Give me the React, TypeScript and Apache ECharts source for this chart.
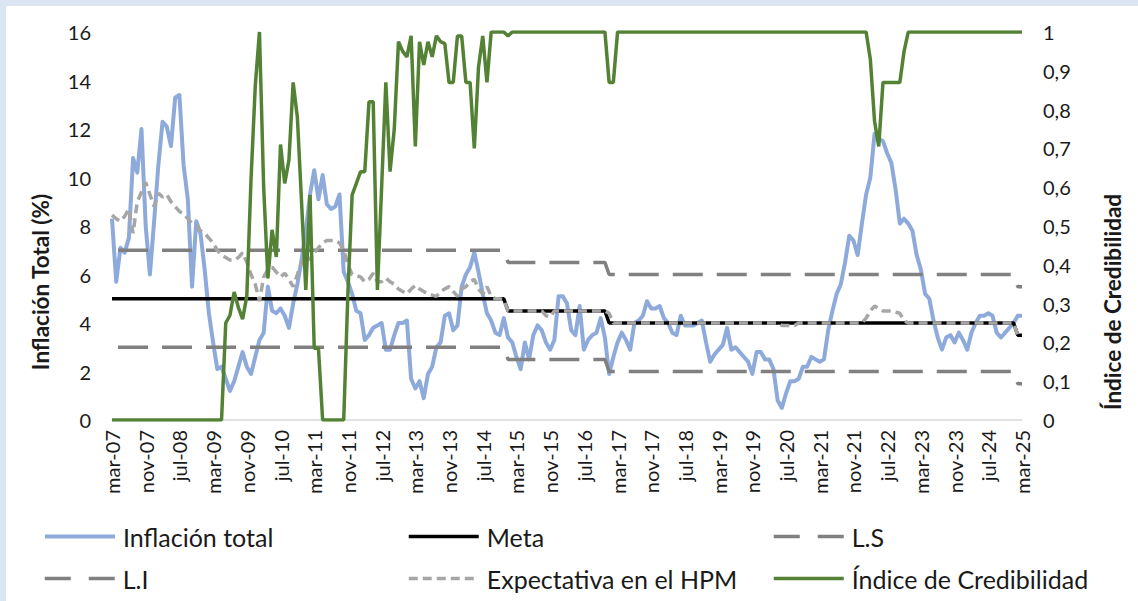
import React, { useEffect, useRef } from "react";
import * as echarts from "echarts";

// ---------- DATA ----------
const MONTHS = ["ene", "feb", "mar", "abr", "may", "jun", "jul", "ago", "sep", "oct", "nov", "dic"];
const START_YEAR = 2007;
const START_MONTH = 2; // mar
const N_MONTHS = 217; // mar-07 .. mar-25

const CATEGORIES: string[] = [];
for (let k = 0; k < N_MONTHS; k++) {
  const m = (START_MONTH + k) % 12;
  const y = START_YEAR + Math.floor((START_MONTH + k) / 12);
  CATEGORIES.push(`${MONTHS[m]}-${String(y % 100).padStart(2, "0")}`);
}

const INFLACION = [
  8.3, 5.7, 7.1, 6.9, 7.5, 10.8, 10.2, 12.0, 8.0, 6.0,
  8.2, 10.5, 12.3, 12.1, 11.3, 13.3, 13.4, 10.5, 9.1, 5.5,
  8.2, 7.7, 6.2, 4.4, 3.2, 2.1, 2.2, 1.7, 1.2, 1.6,
  2.2, 2.8, 2.2, 1.9, 2.6, 3.3, 3.6, 5.5, 4.5, 4.4,
  4.6, 4.3, 3.8, 4.8, 5.6, 6.6, 7.8, 9.3, 10.3, 9.1,
  10.1, 8.9, 8.7, 8.8, 9.3, 6.1, 5.7, 5.2, 4.5, 4.4,
  3.3, 3.5, 3.8, 3.9, 4.0, 2.9, 2.9, 3.5, 4.0, 4.0,
  4.1, 1.7, 1.3, 1.6, 0.9, 1.9, 2.2, 3.0, 3.2, 4.3,
  4.4, 3.7, 3.9, 5.5, 6.0, 6.3, 6.9, 6.1, 5.2, 4.4,
  4.1, 3.6, 3.5, 4.2, 3.4, 3.2, 2.6, 2.1, 3.2, 2.5,
  3.5, 3.9, 3.7, 3.2, 2.9, 3.3, 5.1, 5.1, 4.8, 3.7,
  3.5, 4.7, 2.9, 3.3, 3.5, 3.6, 4.2, 3.4, 1.9, 2.6,
  3.2, 3.6, 3.3, 2.9, 4.0, 4.1, 4.3, 4.9, 4.6, 4.6,
  4.7, 4.2, 4.0, 3.6, 3.5, 4.3, 3.9, 3.9, 3.9, 4.0,
  4.1, 3.2, 2.4, 2.7, 2.9, 3.1, 3.8, 2.9, 3.0, 2.8,
  2.6, 2.4, 1.9, 2.8, 2.8, 2.5, 2.5, 2.1, 0.8, 0.5,
  1.1, 1.6, 1.6, 1.7, 2.2, 2.2, 2.6, 2.5, 2.4, 2.5,
  3.7, 4.5, 5.2, 5.6, 6.5, 7.6, 7.4, 6.8, 8.1, 9.3,
  10.0, 11.8, 11.6, 11.5, 11.0, 10.6, 9.5, 8.1, 8.3, 8.1,
  7.8, 6.8, 6.2, 5.2, 5.0, 4.1, 3.4, 2.9, 3.4, 3.5,
  3.2, 3.6, 3.3, 2.9, 3.6, 4.0, 4.3, 4.3, 4.4, 4.3,
  3.6, 3.4, 3.6, 3.8, 4.0, 4.3, 4.3,
];

const EXPECTATIVA = [
  8.45, 8.3, 8.2, 8.4, 8.7, 7.7, 9.0, 9.4, 9.8, 9.3,
  8.8, 9.35, 9.2, 9.3, 9.0, 8.8, 8.6, 8.5, 8.3, 8.1,
  8.0, 7.8, 7.7, 7.5, 7.3, 7.0, 6.8, 6.7, 6.6, 6.6,
  6.7, 6.9, 6.5, 6.0, 5.6, 4.9, 5.9, 6.2, 6.3, 6.1,
  5.9, 6.05, 5.8, 5.5, 6.0, 6.5, 6.8, 6.6, 6.9, 7.1,
  7.3, 7.4, 7.4, 7.4, 7.3, 7.0, 6.4, 6.0, 5.95, 5.9,
  5.7, 5.8, 6.05, 5.7, 5.7, 5.85, 5.7, 5.6, 5.4, 5.3,
  5.2, 5.4, 5.55, 5.4, 5.3, 5.2, 5.15, 5.1, 5.3, 5.4,
  5.5, 5.3, 5.1, 5.4, 5.5, 5.7, 5.8, 5.4, 5.2, 5.5,
  5.1, 5.0, 5.0, 4.95, 4.5, 4.5, 4.5, 4.5, 4.5, 4.5,
  4.5, 4.5, 4.5, 4.3, 4.25, 4.5, 4.5, 4.5, 4.5, 4.5,
  4.5, 4.5, 4.5, 4.5, 4.5, 4.5, 4.5, 4.5, 4.4, 4.0,
  4.0, 4.0, 4.0, 4.0, 4.0, 4.0, 4.0, 4.0, 4.0, 4.0,
  4.0, 4.0, 4.0, 4.0, 4.0, 4.0, 4.0, 4.0, 4.0, 4.0,
  4.0, 4.0, 4.0, 4.0, 4.0, 4.0, 4.0, 4.0, 4.0, 4.0,
  4.0, 4.0, 4.0, 4.0, 4.0, 4.0, 4.0, 4.0, 4.0, 3.9,
  3.9, 3.9, 3.9, 4.0, 4.0, 4.0, 4.0, 4.0, 4.0, 4.0,
  4.0, 4.0, 4.0, 4.0, 4.0, 4.0, 4.0, 4.0, 4.0, 4.2,
  4.5, 4.7, 4.6, 4.5, 4.5, 4.5, 4.45, 4.4, 4.1, 4.0,
  4.0, 4.0, 4.0, 4.0, 4.0, 4.0, 4.0, 4.0, 4.0, 4.0,
  4.0, 4.0, 4.0, 4.0, 4.0, 4.0, 4.0, 4.0, 4.0, 4.0,
  4.0, 4.0, 4.0, 4.0, 4.0, 3.5, 3.5,
];

const CREDIBILIDAD = [
  0, 0, 0, 0, 0, 0, 0, 0, 0, 0,
  0, 0, 0, 0, 0, 0, 0, 0, 0, 0,
  0, 0, 0, 0, 0, 0, 0, 0.25, 0.27, 0.33,
  0.29, 0.26, 0.32, 0.62, 0.86, 1.0, 0.6, 0.365, 0.49, 0.42,
  0.71, 0.61, 0.67, 0.87, 0.78, 0.56, 0.335, 0.58, 0.185, 0.185,
  0, 0, 0, 0, 0, 0, 0.33, 0.58, 0.61, 0.64,
  0.64, 0.82, 0.82, 0.335, 0.6, 0.87, 0.64, 0.75, 0.975, 0.95,
  0.936, 0.99, 0.705, 0.975, 0.915, 0.975, 0.936, 0.99, 0.975, 0.97,
  0.87, 0.87, 0.99, 0.99, 0.87, 0.87, 0.7, 0.91, 0.99, 0.87,
  1, 1, 1, 1, 0.99, 1, 1, 1, 1, 1,
  1, 1, 1, 1, 1, 1, 1, 1, 1, 1,
  1, 1, 1, 1, 1, 1, 1, 1, 0.87, 0.87,
  1, 1, 1, 1, 1, 1, 1, 1, 1, 1,
  1, 1, 1, 1, 1, 1, 1, 1, 1, 1,
  1, 1, 1, 1, 1, 1, 1, 1, 1, 1,
  1, 1, 1, 1, 1, 1, 1, 1, 1, 1,
  1, 1, 1, 1, 1, 1, 1, 1, 1, 1,
  1, 1, 1, 1, 1, 1, 1, 1, 1, 1,
  0.93, 0.77, 0.705, 0.87, 0.87, 0.87, 0.87, 0.87, 0.95, 1,
  1, 1, 1, 1, 1, 1, 1, 1, 1, 1,
  1, 1, 1, 1, 1, 1, 1, 1, 1, 1,
  1, 1, 1, 1, 1, 1, 1,
];

// Policy target and band: [value, number of months]
const META_RUNS: [number, number][] = [[5, 94], [4.5, 24], [4, 97], [3.5, 2]];
const LS_RUNS: [number, number][] = [[7, 94], [6.5, 24], [6, 97], [5.5, 2]];
const LI_RUNS: [number, number][] = [[3, 94], [2.5, 24], [2, 97], [1.5, 2]];

const LEFT_TICKS = { min: 0, max: 16, interval: 2 };
const RIGHT_TICKS = { min: 0, max: 1, interval: 0.1 };

const expandRuns = (runs: [number, number][]) => {
  const out: number[] = [];
  runs.forEach(([v, n]) => {
    for (let k = 0; k < n; k++) out.push(v);
  });
  return out;
};

const META = expandRuns(META_RUNS);
const LS = expandRuns(LS_RUNS);
const LI = expandRuns(LI_RUNS);

// ---------- STYLE ----------
const FONT = "Lato";
const TXT = "#1a1a1a";

export default function App() {
  const ref = useRef<HTMLDivElement>(null);

  useEffect(() => {
    document.body.style.margin = "0";
    const chart = echarts.init(ref.current!, null, { renderer: "svg" });

    const legendBase = {
      orient: "horizontal",
      padding: 0,
      itemWidth: 70,
      itemHeight: 14,
      itemGap: 0,
      selectedMode: false,
      itemStyle: { opacity: 0 },
      textStyle: { fontFamily: FONT, fontSize: 25, color: TXT, padding: [0, 0, 0, 3] },
    };

    const option: any = {
      animation: false,
      backgroundColor: "#ffffff",
      grid: { left: 106, top: 26, width: 910, height: 388, containLabel: false },
      xAxis: {
        type: "category",
        data: CATEGORIES,
        boundaryGap: false,
        axisLine: { show: true, lineStyle: { color: "#d9d9d9", width: 1.5 } },
        axisTick: { show: false },
        splitLine: { show: false },
        axisLabel: {
          interval: 7,
          rotate: 90,
          margin: 10,
          fontFamily: FONT,
          fontSize: 20,
          color: TXT,
        },
      },
      yAxis: [
        {
          type: "value",
          ...LEFT_TICKS,
          axisLine: { show: false },
          axisTick: { show: false },
          splitLine: { show: false },
          axisLabel: { fontFamily: FONT, fontSize: 20, color: TXT, margin: 21 },
        },
        {
          type: "value",
          position: "right",
          ...RIGHT_TICKS,
          axisLine: { show: false },
          axisTick: { show: false },
          splitLine: { show: false },
          axisLabel: {
            fontFamily: FONT,
            fontSize: 20,
            color: TXT,
            margin: 21,
            formatter: (v: number) => {
              const r = Math.round(v * 10) / 10;
              if (r === 0) return "0";
              if (r === 1) return "1";
              return r.toFixed(1).replace(".", ",");
            },
          },
        },
      ],
      legend: [
        { ...legendBase, data: ["Inflación total"], left: 37, top: 518, lineStyle: { width: 4 } },
        { ...legendBase, data: ["Meta"], left: 401, top: 518, lineStyle: { width: 3.5 } },
        { ...legendBase, data: ["L.S"], left: 766, top: 518, lineStyle: { width: 3.5, type: [26, 18], dashOffset: 0 } },
        { ...legendBase, data: ["L.I"], left: 37, top: 560, lineStyle: { width: 3.5, type: [26, 18], dashOffset: 0 } },
        { ...legendBase, data: ["Expectativa en el HPM"], left: 401, top: 560, lineStyle: { width: 3.5 } },
        { ...legendBase, data: ["Índice de Credibilidad"], left: 766, top: 560, lineStyle: { width: 3.5 } },
      ],
      graphic: [
        {
          type: "text",
          x: 34,
          y: 276,
          rotation: Math.PI / 2,
          style: {
            text: "Inflación Total (%)",
            fontFamily: FONT,
            fontSize: 22.5,
            fontWeight: "bold",
            fill: TXT,
            textAlign: "center",
            textVerticalAlign: "middle",
          },
        },
        {
          type: "text",
          x: 1106,
          y: 296,
          rotation: Math.PI / 2,
          style: {
            text: "Índice de Credibilidad",
            fontFamily: FONT,
            fontSize: 22.5,
            fontWeight: "bold",
            fill: TXT,
            textAlign: "center",
            textVerticalAlign: "middle",
          },
        },
      ],
      series: [
        {
          name: "Inflación total",
          type: "line",
          data: INFLACION,
          yAxisIndex: 0,
          symbol: "none",
          itemStyle: { color: "#8eaadb" },
          lineStyle: { color: "#8eaadb", width: 4, join: "round" },
        },
        {
          name: "Meta",
          type: "line",
          data: META,
          yAxisIndex: 0,
          symbol: "none",
          itemStyle: { color: "#000000" },
          lineStyle: { color: "#000000", width: 3.5 },
        },
        {
          name: "L.S",
          type: "line",
          data: LS,
          yAxisIndex: 0,
          symbol: "none",
          itemStyle: { color: "#808080" },
          lineStyle: { color: "#808080", width: 3.5, type: [30, 14], dashOffset: 38 },
        },
        {
          name: "L.I",
          type: "line",
          data: LI,
          yAxisIndex: 0,
          symbol: "none",
          itemStyle: { color: "#808080" },
          lineStyle: { color: "#808080", width: 3.5, type: [30, 14], dashOffset: 38 },
        },
        {
          name: "Expectativa en el HPM",
          type: "line",
          data: EXPECTATIVA,
          yAxisIndex: 0,
          symbol: "none",
          itemStyle: { color: "#a6a6a6" },
          lineStyle: { color: "#a6a6a6", width: 3.5, type: [9, 5] },
        },
        {
          name: "Índice de Credibilidad",
          type: "line",
          data: CREDIBILIDAD,
          yAxisIndex: 1,
          symbol: "none",
          itemStyle: { color: "#548235" },
          lineStyle: { color: "#548235", width: 3.5 },
        },
      ],
    };

    chart.setOption(option);
    return () => chart.dispose();
  }, []);

  return (
    <div
      style={{
        position: "fixed",
        left: 0,
        top: 0,
        width: 1138,
        height: 601,
        background: "#dce6f2",
      }}
    >
      <div
        ref={ref}
        style={{ position: "absolute", left: 6, top: 6, width: 1132, height: 595, background: "#ffffff" }}
      />
    </div>
  );
}
